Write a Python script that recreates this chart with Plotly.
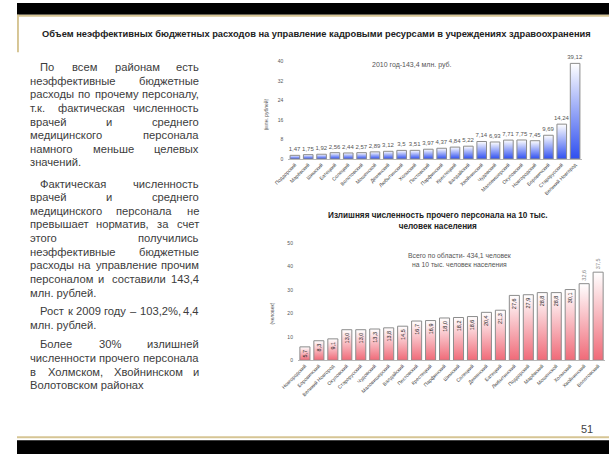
import plotly.graph_objects as go

W, H = 609, 457
FONT = 'Liberation Sans, Arial, sans-serif'

# верхний график: неэффективные расходы на прочий персонал, млн. руб., 2010
cost_districts = [
    'Поддорский', 'Марёвский', 'Шимский', 'Батецкий', 'Солецкий', 'Волотовский',
    'Мошенской', 'Демянский', 'Любытинский', 'Холмский', 'Пестовский', 'Парфинский',
    'Крестецкий', 'Валдайский', 'Хвойнинский', 'Чудовский', 'Маловишерский',
    'Окуловский', 'Новгородский', 'Боровичский', 'Старорусский', 'Великий Новгород',
]
cost_values = [
    1.47, 1.75, 1.92, 2.56, 2.44, 2.57, 2.89, 3.12, 3.5, 3.51, 3.97,
    4.37, 4.84, 5.22, 7.14, 6.93, 7.71, 7.75, 7.45, 9.69, 14.24, 39.12,
]
cost_note = '2010 год-143,4 млн. руб.'
cost_unit = '(млн. рублей)'

# нижний график: излишняя численность прочего персонала на 10 тыс. населения
staff_districts = [
    'Новгородский', 'Боровичский', 'Великий Новгород', 'Окуловский', 'Старорусский',
    'Чудовский', 'Маловишерский', 'Валдайский', 'Пестовский', 'Крестецкий',
    'Парфинский', 'Шимский', 'Солецкий', 'Демянский', 'Батецкий', 'Любытинский',
    'Поддорский', 'Марёвский', 'Мошенской', 'Холмский', 'Хвойнинский', 'Волотовский',
]
staff_values = [
    5.7, 8.3, 9.1, 13.0, 13.0, 13.3, 13.8, 14.5, 16.7, 16.9, 18.0,
    18.2, 18.6, 20.4, 21.3, 27.6, 27.9, 28.8, 28.8, 30.1, 32.6, 37.5,
]
staff_title = '<b>Излишняя численность прочего персонала на 10 тыс.<br>человек населения</b>'
staff_note = 'Всего по области- 434,1 человек<br>на 10 тыс. человек населения'
staff_unit = '(человек)'

slide_title = 'Объем неэффективных бюджетных расходов на управление кадровыми ресурсами в учреждениях здравоохранения'
paragraphs = [
    ['По всем районам есть',
     'неэффективные бюджетные',
     'расходы по прочему персоналу,',
     'т.к. фактическая численность',
     'врачей и среднего',
     'медицинского персонала',
     'намного меньше целевых',
     'значений.'],
    ['Фактическая численность',
     'врачей и среднего',
     'медицинского персонала не',
     'превышает норматив, за счет',
     'этого получились',
     'неэффективные бюджетные',
     'расходы на управление прочим',
     'персоналом и составили 143,4',
     'млн. рублей.'],
    ['Рост к 2009 году – 103,2%, 4,4',
     'млн. рублей.'],
    ['Более 30% излишней',
     'численности прочего персонала',
     'в Холмском, Хвойнинском и',
     'Волотовском районах'],
]
para_top = [65, 183, 312, 346]
page_no = '51'

BW = 0.72


def fx(x):
    return x / W


def fy(y):
    return 1 - y / H


fig = go.Figure()


def add_chart(values, text, base, over, fill, **text_kw):
    n = len(values)
    for i, v in enumerate(values):
        fig.add_trace(go.Scatter(
            x=[i - BW / 2, i - BW / 2, i + BW / 2, i + BW / 2],
            y=[0, v, v, 0],
            fill='toself', mode='none',
            fillgradient=dict(type='vertical', colorscale=[[0, fill], [1, 'white']]),
            hoverinfo='skip', showlegend=False, xaxis=base[0], yaxis=base[1],
        ))
    fig.add_trace(go.Bar(
        x=list(range(n)), y=values, width=BW, text=text,
        marker=dict(color='rgba(0,0,0,0)', line=dict(color='#8c8c8c', width=1)),
        cliponaxis=False, constraintext='none', showlegend=False,
        xaxis=over[0], yaxis=over[1], **text_kw,
    ))


cost_text = [f'{v:.2f}'.rstrip('0').rstrip('.').replace('.', ',') for v in cost_values]
add_chart(cost_values, cost_text, ('x', 'y'), ('x3', 'y3'), '#2f4ff0',
          textposition='outside', textfont=dict(size=6, color='#555'))

staff_text = [f'{v:.1f}'.replace('.', ',') for v in staff_values]
staff_pos = ['inside'] * (len(staff_values) - 2) + ['outside'] * 2
staff_col = ['#222'] * (len(staff_values) - 2) + ['#888'] * 2
add_chart(staff_values, staff_text, ('x2', 'y2'), ('x4', 'y4'), '#f06a78',
          textposition=staff_pos, textangle=-90, insidetextanchor='end',
          textfont=dict(size=5.5, color=staff_col, family='Liberation Sans, Arial'))

xcommon = dict(showgrid=False, zeroline=False, showline=True, linecolor='#b8b8b8',
               linewidth=1, ticks='', tickangle=-45, tickfont=dict(size=5, color='#444'),
               range=[-0.5, 21.5])
ycommon = dict(showgrid=False, zeroline=False, showline=False, ticks='',
               tickfont=dict(size=5, color='#555'), ticklabelstandoff=4)

fig.update_layout(
    width=W, height=H, margin=dict(l=0, r=0, t=0, b=0),
    paper_bgcolor='white', plot_bgcolor='rgba(0,0,0,0)',
    font=dict(family=FONT, color='#444'),
    xaxis=dict(xcommon, domain=[fx(279), fx(581)], anchor='y',
               tickvals=list(range(len(cost_districts))), ticktext=cost_districts),
    yaxis=dict(ycommon, domain=[fy(158), fy(59)], anchor='x', range=[0, 40], dtick=8),
    xaxis2=dict(xcommon, domain=[fx(289), fx(605)], anchor='y2',
                tickvals=list(range(len(staff_districts))), ticktext=staff_districts),
    yaxis2=dict(ycommon, domain=[fy(362), fy(243)], anchor='x2', range=[0, 50], dtick=10),
    xaxis3=dict(overlaying='x', anchor='y3', range=[-0.5, 21.5], visible=False),
    yaxis3=dict(overlaying='y', anchor='x3', range=[0, 40], visible=False),
    xaxis4=dict(overlaying='x2', anchor='y4', range=[-0.5, 21.5], visible=False),
    yaxis4=dict(overlaying='y2', anchor='x4', range=[0, 50], visible=False),
)

# рамка слайда
tan = '#d6c594'
fig.add_shape(type='rect', xref='paper', yref='paper', x0=0, x1=1, y0=fy(12), y1=1,
              fillcolor='black', line_width=0)
fig.add_shape(type='rect', xref='paper', yref='paper', x0=0, x1=1, y0=fy(14), y1=fy(12),
              fillcolor=tan, line_width=0)
fig.add_shape(type='rect', xref='paper', yref='paper', x0=0, x1=fx(2), y0=fy(50), y1=fy(12),
              fillcolor=tan, line_width=0)
fig.add_shape(type='rect', xref='paper', yref='paper', x0=0, x1=1, y0=fy(441), y1=fy(439),
              fillcolor=tan, line_width=0)
fig.add_shape(type='rect', xref='paper', yref='paper', x0=0, x1=1, y0=0, y1=fy(443),
              fillcolor='black', line_width=0)


def note(text, x, y, size, color='#444', **kw):
    fig.add_annotation(text=text, x=fx(x), y=fy(y), xref='paper', yref='paper',
                       showarrow=False, font=dict(size=size, color=color),
                       borderpad=0, borderwidth=0, **kw)


note(f'<b>{slide_title}</b>', 26, 31.5, 9.3, color='#222', xanchor='left', yanchor='middle')
note(cost_note, 406, 63, 7, color='#555', xanchor='center', yanchor='middle')
note(cost_unit, 256, 113, 5, color='#555', textangle=-90, xanchor='center', yanchor='middle')
note(staff_title, 433, 221, 8.2, color='#222', xanchor='center', yanchor='middle')
note(staff_note, 455, 260, 6.8, color='#555', xanchor='center', yanchor='middle')
note(staff_unit, 262, 315, 5, color='#555', textangle=-90, xanchor='center', yanchor='middle')
note(page_no, 593, 432, 11, color='#444', xanchor='right', yanchor='middle')

# текст слева, выравнивание по ширине
CW = {' ': 278, '.': 278, ',': 278, '%': 889, '–': 556,
      'а': 556, 'б': 573, 'в': 531, 'г': 365, 'д': 583, 'е': 556, 'ж': 669, 'з': 458,
      'и': 559, 'й': 559, 'к': 438, 'л': 583, 'м': 688, 'н': 552, 'о': 556, 'п': 542,
      'р': 556, 'с': 500, 'т': 458, 'у': 500, 'ф': 823, 'х': 500, 'ц': 573, 'ч': 521,
      'ш': 802, 'щ': 823, 'ъ': 625, 'ы': 719, 'ь': 521, 'э': 510, 'ю': 750, 'я': 542,
      'П': 719, 'Ф': 784, 'Р': 667, 'Б': 656, 'В': 667, 'Х': 667}
TS = 11.2
X0, X1, INDENT, LH = 13, 187, 11, 13.8


def tw(s):
    return sum(CW.get(c, 556) for c in s) * TS / 1000


for top, lines in zip(para_top, paragraphs):
    for j, line in enumerate(lines):
        y = top + j * LH
        x0 = X0 + (INDENT if j == 0 else 0)
        words = line.split(' ')
        if j == len(lines) - 1 or len(words) == 1:
            note(line, x0, y, TS, color='#3c3c3c', xanchor='left', yanchor='middle')
            continue
        gap = max(2.5, (X1 - x0 - sum(tw(w) for w in words)) / (len(words) - 1))
        x = x0
        for k, w in enumerate(words):
            if k == len(words) - 1:
                note(w, X1, y, TS, color='#3c3c3c', xanchor='right', yanchor='middle')
            else:
                note(w, x, y, TS, color='#3c3c3c', xanchor='left', yanchor='middle')
            x += tw(w) + gap

fig.write_html(
    'out.html',
    config={'displayModeBar': False},
    post_script="document.body.style.margin='0';document.body.style.overflow='hidden';",
)
